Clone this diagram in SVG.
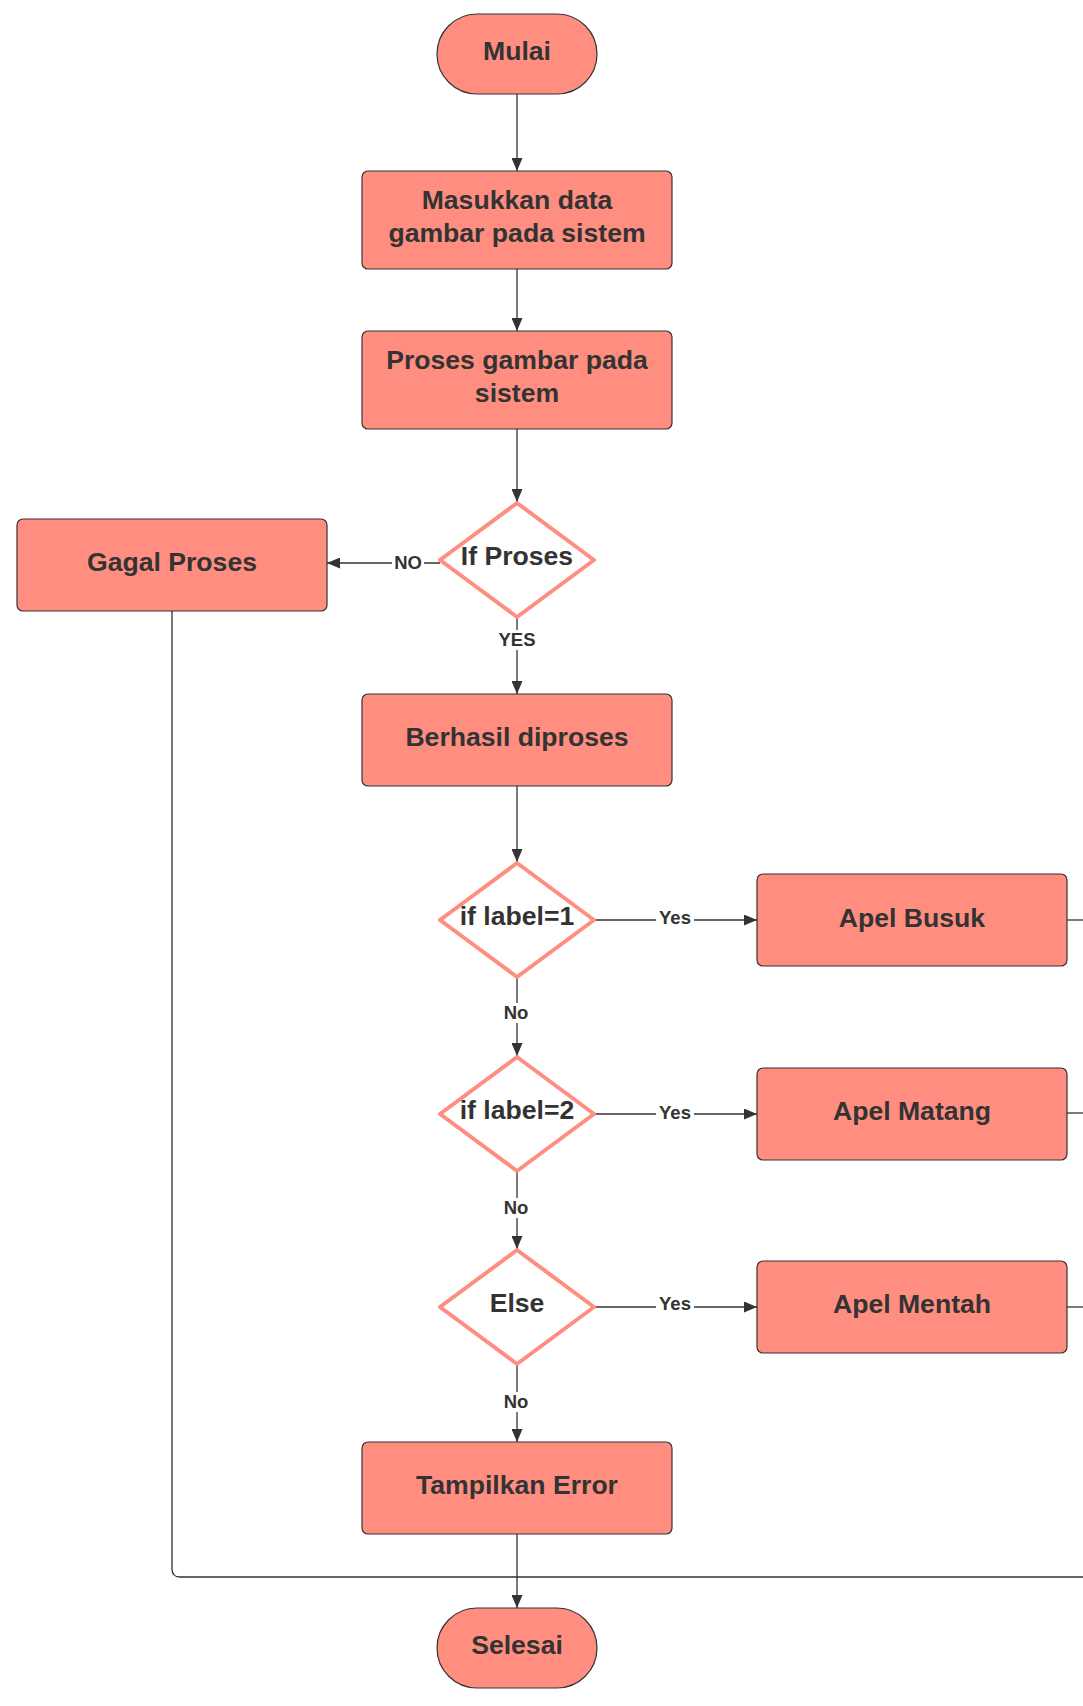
<svg xmlns="http://www.w3.org/2000/svg" width="1083" height="1706" viewBox="0 0 1083 1706">
<style>
.box{fill:#FF8E80;stroke:#333333;stroke-width:1.2}
.dia{fill:#ffffff;stroke:#FF8E80;stroke-width:4;stroke-linejoin:round}
.t{font-family:"Liberation Sans",Arial,sans-serif;font-weight:bold;font-size:26.6px;fill:#333333;text-anchor:middle}
.el{font-family:"Liberation Sans",Arial,sans-serif;font-weight:bold;font-size:18.5px;fill:#333333;text-anchor:middle}
.ln{fill:none;stroke:#333333;stroke-width:1.3}
.lb{fill:#ffffff}
</style>
<defs>
<marker id="ah" viewBox="0 0 13 11" refX="13" refY="5.5" markerWidth="13" markerHeight="11" markerUnits="userSpaceOnUse" orient="auto">
<path d="M0,0 L13,5.5 L0,11 z" fill="#333333"/>
</marker>
</defs>
<rect width="1083" height="1706" fill="#ffffff"/>
<g id="connectors">
<path class="ln" d="M517,94 V171" marker-end="url(#ah)"/>
<path class="ln" d="M517,269 V331" marker-end="url(#ah)"/>
<path class="ln" d="M517,429 V502" marker-end="url(#ah)"/>
<path class="ln" d="M440,563 H327" marker-end="url(#ah)"/>
<path class="ln" d="M517,618 V694" marker-end="url(#ah)"/>
<path class="ln" d="M517,786 V862" marker-end="url(#ah)"/>
<path class="ln" d="M594,920 H757" marker-end="url(#ah)"/>
<path class="ln" d="M517,977 V1056" marker-end="url(#ah)"/>
<path class="ln" d="M594,1114 H757" marker-end="url(#ah)"/>
<path class="ln" d="M517,1172 V1249" marker-end="url(#ah)"/>
<path class="ln" d="M594,1307 H757" marker-end="url(#ah)"/>
<path class="ln" d="M517,1365 V1442" marker-end="url(#ah)"/>
<path class="ln" d="M517,1534 V1608" marker-end="url(#ah)"/>
<path class="ln" d="M172,611 V1569 Q172,1577 180,1577 H1083" stroke="#555555"/>
<path class="ln" d="M1067,920 H1083"/>
<path class="ln" d="M1067,1113 H1083"/>
<path class="ln" d="M1067,1307 H1083"/>
<rect class="lb" x="392" y="553" width="32" height="20"/>
<text class="el" x="408" y="569">NO</text>
<rect class="lb" x="497" y="630" width="40" height="20"/>
<text class="el" x="517" y="646">YES</text>
<rect class="lb" x="656" y="908" width="38" height="20"/>
<text class="el" x="675" y="924">Yes</text>
<rect class="lb" x="500" y="1003" width="34" height="20"/>
<text class="el" x="516" y="1019">No</text>
<rect class="lb" x="656" y="1103" width="38" height="20"/>
<text class="el" x="675" y="1119">Yes</text>
<rect class="lb" x="500" y="1198" width="34" height="20"/>
<text class="el" x="516" y="1214">No</text>
<rect class="lb" x="656" y="1294" width="38" height="20"/>
<text class="el" x="675" y="1310">Yes</text>
<rect class="lb" x="500" y="1392" width="34" height="20"/>
<text class="el" x="516" y="1408">No</text>
</g>
<g id="mulai">
<rect class="box" x="437" y="14" width="160" height="80" rx="40"/>
<text class="t" x="517" y="60">Mulai</text>
</g>
<g id="masukkan">
<rect class="box" x="362" y="171" width="310" height="98" rx="6"/>
<text class="t" x="517" y="209">Masukkan data</text>
<text class="t" x="517" y="242">gambar pada sistem</text>
</g>
<g id="proses">
<rect class="box" x="362" y="331" width="310" height="98" rx="6"/>
<text class="t" x="517" y="369">Proses gambar pada</text>
<text class="t" x="517" y="402">sistem</text>
</g>
<g id="ifproses">
<polygon class="dia" points="517,503 594,560 517,617 440,560"/>
<text class="t" x="517" y="565">If Proses</text>
</g>
<g id="gagal">
<rect class="box" x="17" y="519" width="310" height="92" rx="6"/>
<text class="t" x="172" y="571">Gagal Proses</text>
</g>
<g id="berhasil">
<rect class="box" x="362" y="694" width="310" height="92" rx="6"/>
<text class="t" x="517" y="746">Berhasil diproses</text>
</g>
<g id="label1">
<polygon class="dia" points="517,863 594,920 517,977 440,920"/>
<text class="t" x="517" y="925">if label=1</text>
</g>
<g id="busuk">
<rect class="box" x="757" y="874" width="310" height="92" rx="6"/>
<text class="t" x="912" y="927">Apel Busuk</text>
</g>
<g id="label2">
<polygon class="dia" points="517,1057 594,1114 517,1171 440,1114"/>
<text class="t" x="517" y="1119">if label=2</text>
</g>
<g id="matang">
<rect class="box" x="757" y="1068" width="310" height="92" rx="6"/>
<text class="t" x="912" y="1120">Apel Matang</text>
</g>
<g id="else">
<polygon class="dia" points="517,1250 594,1307 517,1364 440,1307"/>
<text class="t" x="517" y="1312">Else</text>
</g>
<g id="mentah">
<rect class="box" x="757" y="1261" width="310" height="92" rx="6"/>
<text class="t" x="912" y="1313">Apel Mentah</text>
</g>
<g id="error">
<rect class="box" x="362" y="1442" width="310" height="92" rx="6"/>
<text class="t" x="517" y="1494">Tampilkan Error</text>
</g>
<g id="selesai">
<rect class="box" x="437" y="1608" width="160" height="80" rx="40"/>
<text class="t" x="517" y="1654">Selesai</text>
</g>
</svg>
